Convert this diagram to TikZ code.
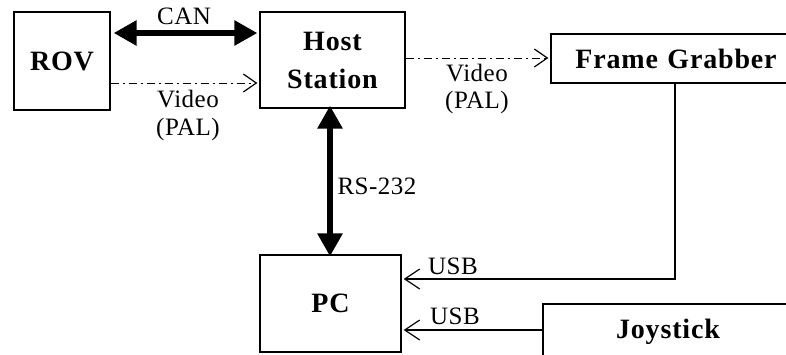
\documentclass[tikz,border=0pt]{standalone}
\usepackage{fontspec}
\setmainfont{Liberation Serif}
\usetikzlibrary{arrows.meta}
\begin{document}
\begin{tikzpicture}[x=1pt,y=-1pt,
  block/.style={draw, line width=1.3pt, inner sep=0pt, font=\fontsize{28}{38}\selectfont\bfseries\addfontfeature{LetterSpace=3}, align=center},
  lbl/.style={font=\fontsize{25}{28}\selectfont\addfontfeature{LetterSpace=2}, inner sep=0pt, align=center},
  bus/.style={line width=6pt, {Triangle[length=23pt,width=24pt]}-{Triangle[length=23pt,width=24pt]}},
  video/.style={line width=1pt, dash pattern=on 8pt off 4pt on 2pt off 4pt, -{Straight Barb[length=13pt,width=18pt,line width=1.2pt]}},
  usb/.style={line width=1.3pt, -{Straight Barb[length=15pt,width=20pt,line width=1.2pt]}}]
\useasboundingbox (0,0) rectangle (786,354);
\clip (0,0) rectangle (786,354);

% blocks
\node[block, minimum width=96pt, minimum height=98pt] (rov) at (62,61) {ROV};
\node[block, minimum width=145pt, minimum height=96pt] (host) at (332.5,60) {Host\\Station};
\node[block, minimum width=250pt, minimum height=49pt, text width=250pt] (fg) at (676,58.5) {Frame Grabber};
\node[block, minimum width=250pt, minimum height=56pt, text width=250pt] (joy) at (668,332) {Joystick\hspace*{12pt}};
\node[block, minimum width=141pt, minimum height=97pt] (pc) at (330.5,303.5) {PC};

% connectors
\draw[bus] ([xshift=3pt]rov.east |- 0,33) -- ([xshift=-2pt]host.west |- 0,33);
\node[lbl] (can) at (184,16) {CAN};

\draw[video] (rov.east |- 0,83) -- ([xshift=-2pt]host.west |- 0,83);
\node[lbl] (v1) at (188,99) {Video};
\node[lbl] (p1) at (188,129) {(PAL)};

\draw[video] (host.east |- 0,58) -- ([xshift=-2pt]fg.west |- 0,58);
\node[lbl] (v2) at (477,73) {Video};
\node[lbl] (p2) at (477,102) {(PAL)};

\draw[bus] ([yshift=3pt]host.south -| 330,0) -- ([yshift=-2pt]pc.north -| 330,0);
\node[lbl] (rs) at (377,186) {RS-232};

\draw[usb] (fg.south -| 675,0) |- ([xshift=2pt]pc.east |- 0,279);
\node[lbl] (u1) at (453,266) {USB};

\draw[usb] (joy.west |- 0,330) -- ([xshift=2pt]pc.east |- 0,330);
\node[lbl] (u2) at (455,316) {USB};
\end{tikzpicture}
\end{document}
